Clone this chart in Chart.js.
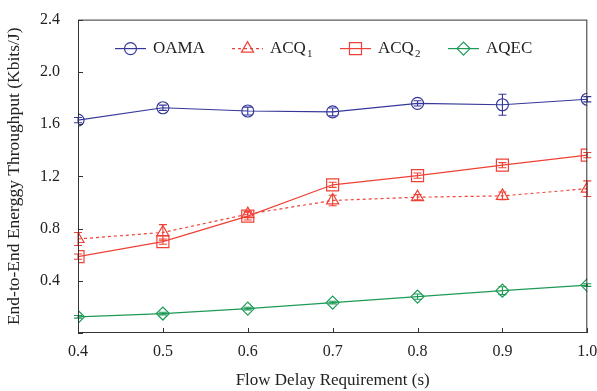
<!DOCTYPE html>
<html>
<head>
<meta charset="utf-8">
<script src="https://cdn.jsdelivr.net/npm/chart.js@4"></script>
<style>
  html, body { margin: 0; padding: 0; background: #fff; }
  #wrap { width: 597px; height: 391px; }
</style>
</head>
<body>
<div id="wrap"><canvas id="chart" width="597" height="391"></canvas></div>
<script>
// flow delay requirement (s)
const delays = [0.4, 0.5, 0.6, 0.7, 0.8, 0.9, 1.0];

const oama = [1.63, 1.725, 1.70, 1.693, 1.758, 1.748, 1.79];
const oamaErr = [0.02, 0.02, 0.03, 0.03, 0.02, 0.08, 0.02];

const acq1 = [0.72, 0.77, 0.91, 1.015, 1.04, 1.05, 1.105];
const acq1Err = [0.05, 0.06, 0.02, 0.04, 0.02, 0.03, 0.06];

const acq2 = [0.585, 0.70, 0.895, 1.135, 1.205, 1.285, 1.362];
const acq2Err = [0.02, 0.02, 0.03, 0.02, 0.02, 0.02, 0.02];

const aqec = [0.124, 0.149, 0.187, 0.233, 0.279, 0.324, 0.367];
const aqecErr = [0.01, 0.01, 0.01, 0.01, 0.02, 0.03, 0.01];

const yTicks = [0, 0.4, 0.8, 1.2, 1.6, 2.0, 2.4];

const BLUE = '#35379a';
const RED = '#ef4136';
const GREEN = '#1d9a55';
const FONT = '"Liberation Serif", "Times New Roman", serif';

function pts(vals) {
    return vals.map((v, i) => ({ x: delays[i], y: v }));
}

const series = [
    { label: 'OAMA', sub: '', data: oama, err: oamaErr, color: BLUE, style: 'circle', radius: 6, dash: [] },
    { label: 'ACQ', sub: '1', data: acq1, err: acq1Err, color: RED, style: 'triangle', radius: 7, dash: [3, 3] },
    { label: 'ACQ', sub: '2', data: acq2, err: acq2Err, color: RED, style: 'rect', radius: 8.5, dash: [] },
    { label: 'AQEC', sub: '', data: aqec, err: aqecErr, color: GREEN, style: 'rectRot', radius: 6.5, dash: [] }
];

// error bars, axis box, inward ticks, legend
const extras = {
    id: 'extras',
    afterDatasetsDraw(chart) {
        const ctx = chart.ctx;
        const xs = chart.scales.x, ys = chart.scales.y;
        ctx.save();
        series.forEach(s => {
            ctx.strokeStyle = s.color;
            ctx.lineWidth = 1.1;
            s.data.forEach((v, i) => {
                const px = xs.getPixelForValue(delays[i]);
                const top = ys.getPixelForValue(v + s.err[i]);
                const bot = ys.getPixelForValue(v - s.err[i]);
                ctx.beginPath();
                ctx.moveTo(px, top); ctx.lineTo(px, bot);
                ctx.moveTo(px - 4, top); ctx.lineTo(px + 4, top);
                ctx.moveTo(px - 4, bot); ctx.lineTo(px + 4, bot);
                ctx.stroke();
            });
        });
        ctx.restore();
    },
    afterDraw(chart) {
        const ctx = chart.ctx;
        const a = chart.chartArea;
        const xs = chart.scales.x, ys = chart.scales.y;
        ctx.save();
        ctx.strokeStyle = '#333';
        ctx.lineWidth = 1;
        ctx.strokeRect(a.left + 0.5, a.top + 0.5, a.right - a.left - 1, a.bottom - a.top - 1);
        ctx.beginPath();
        delays.forEach(d => {
            const px = Math.round(xs.getPixelForValue(d)) + 0.5;
            ctx.moveTo(px, a.bottom); ctx.lineTo(px, a.bottom - 5);
        });
        yTicks.forEach(t => {
            const py = Math.round(ys.getPixelForValue(t)) + 0.5;
            ctx.moveTo(a.left, py); ctx.lineTo(a.left + 5, py);
        });
        ctx.stroke();

        // legend
        const ly = a.top + 29;
        const starts = [37, 154, 262, 370];
        series.forEach((s, i) => {
            const x0 = a.left + starts[i];
            ctx.strokeStyle = s.color;
            ctx.lineWidth = 1.2;
            ctx.setLineDash(s.dash);
            ctx.beginPath();
            ctx.moveTo(x0, ly); ctx.lineTo(x0 + 31, ly);
            ctx.stroke();
            ctx.setLineDash([]);
            ctx.fillStyle = 'rgba(0,0,0,0)';
            Chart.helpers.drawPoint(ctx, { pointStyle: s.style, radius: s.radius, borderWidth: 1.2 }, x0 + 15.5, ly);
            ctx.fillStyle = '#222';
            ctx.font = '17px ' + FONT;
            ctx.textBaseline = 'middle';
            ctx.textAlign = 'left';
            ctx.fillText(s.label, x0 + 38, ly);
            if (s.sub) {
                const w = ctx.measureText(s.label).width;
                ctx.font = '11px ' + FONT;
                ctx.fillText(s.sub, x0 + 38 + w + 1, ly + 6);
            }
        });
        ctx.restore();
    }
};

new Chart(document.getElementById('chart'), {
    type: 'line',
    data: {
        datasets: series.map(s => ({
            label: s.label + s.sub,
            data: pts(s.data),
            borderColor: s.color,
            backgroundColor: 'rgba(0,0,0,0)',
            borderWidth: 1.2,
            borderDash: s.dash,
            pointStyle: s.style,
            pointRadius: s.radius,
            pointBorderWidth: 1.2,
            pointBorderColor: s.color,
            pointBackgroundColor: 'rgba(0,0,0,0)',
            tension: 0
        }))
    },
    options: {
        responsive: false,
        animation: false,
        layout: { padding: { top: 16, right: 9, left: 0, bottom: 0 } },
        plugins: { legend: { display: false }, tooltip: { enabled: false } },
        scales: {
            x: {
                type: 'linear',
                min: 0.4, max: 1.0,
                grid: { display: false },
                border: { display: false },
                afterFit: s => { s.height = 58; s.paddingRight = 0; s.paddingLeft = 0; },
                ticks: {
                    stepSize: 0.1,
                    padding: 1,
                    color: '#222',
                    font: { family: FONT, size: 16 },
                    maxRotation: 0,
                    callback: v => v.toFixed(1)
                },
                title: {
                    display: true,
                    text: 'Flow Delay Requirement (s)',
                    color: '#222',
                    font: { family: FONT, size: 17 },
                    padding: { top: 7, bottom: 0 }
                }
            },
            y: {
                min: 0, max: 2.4,
                grid: { display: false },
                border: { display: false },
                afterFit: s => { s.width = 78; },
                ticks: {
                    stepSize: 0.4,
                    padding: 10,
                    color: '#222',
                    font: { family: FONT, size: 16 },
                    callback: v => v === 0 ? '' : v.toFixed(1)
                },
                title: {
                    display: true,
                    text: 'End-to-End Energgy Throughput (Kbits/J)',
                    color: '#222',
                    font: { family: FONT, size: 17.5 },
                    padding: { bottom: 4 }
                }
            }
        }
    },
    plugins: [extras]
});
</script>
</body>
</html>
